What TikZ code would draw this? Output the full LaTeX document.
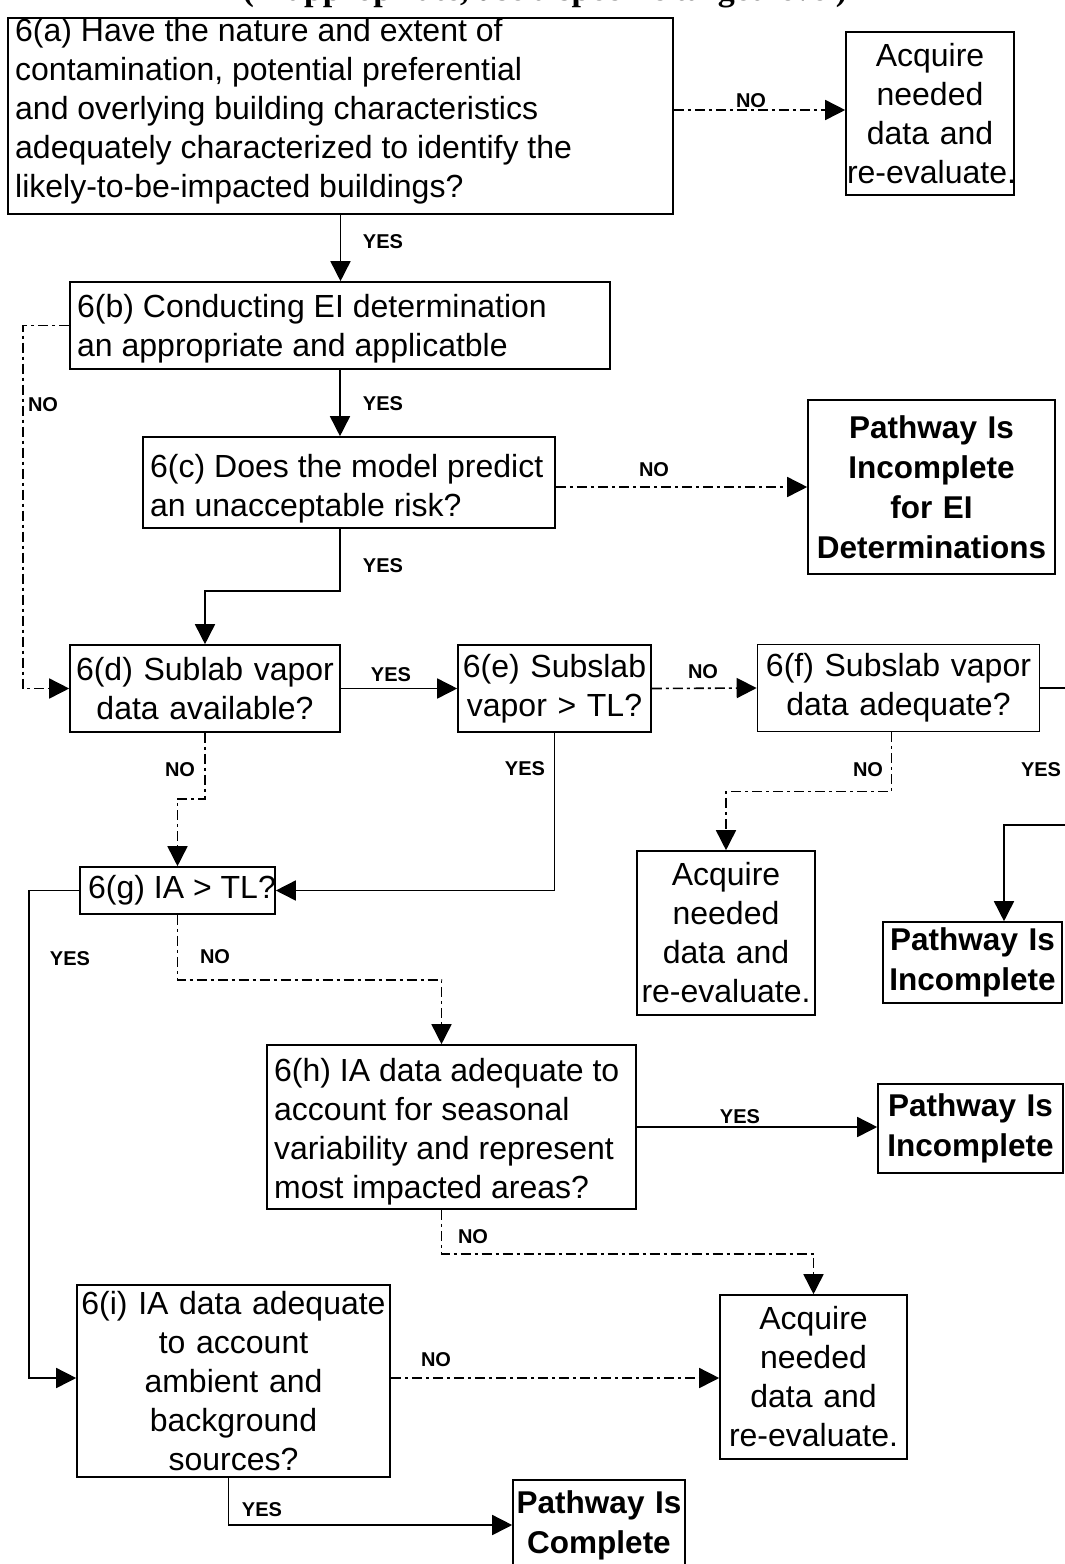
\documentclass[tikz,border=0pt]{standalone}
\usepackage{fontspec}
\setmainfont{Liberation Sans}
\newfontfamily\titlefont{Liberation Serif}
\usetikzlibrary{arrows.meta,calc}
\tikzset{
  box/.style={draw, line width=1.6pt, inner xsep=7pt, inner ysep=0pt, font=\fontsize{32}{39}\selectfont},
  cbox/.style={box, align=center, inner xsep=1pt},
  bbox/.style={box, align=center, inner xsep=1pt, font=\bfseries\fontsize{31.5}{40}\selectfont},
  frame/.style={draw, line width=1.6pt, inner sep=0pt},
  ltext/.style={font=\fontsize{32}{39}\selectfont, align=left, anchor=west, inner sep=0pt},
  conn/.style={line width=1.6pt},
  dd/.style={line width=1.6pt, dash pattern=on 10pt off 4pt on 3pt off 4pt},
  arr/.style={-{Triangle[length=20pt,width=20pt]}},
  lab/.style={font=\bfseries\fontsize{20}{24}\selectfont, inner sep=0pt}
}
\begin{document}
\hyphenpenalty=10000
\exhyphenpenalty=10000
\begin{tikzpicture}[x=1pt,y=-1pt]
\useasboundingbox (0,0) rectangle (1065,1564);
\clip (0,0) rectangle (1065,1564);
\fill[white] (0,0) rectangle (1065,1564);

\node[font=\titlefont\bfseries\fontsize{34}{40}\selectfont, anchor=base, inner sep=0pt] (title) at (545,0) {(If appropriate, use a specific target level)};

% boxes
\node[frame, minimum width=665pt, minimum height=196pt] (a) at (340.5,116) {};
\node[ltext] (atext) at (15,111.5) {6(a) Have the nature and extent of\\contamination, potential preferential\\and overlying building characteristics\\adequately characterized to identify the\\likely-to-be-impacted buildings?};
\node[cbox, text width=166pt, minimum height=163pt] (acq1) at (930,113.5) {Acquire\\needed\\data and\\re-evaluate.};
\node[frame, minimum width=540pt, minimum height=87pt] (b) at (340,325.5) {};
\node[ltext] (btext) at (77,329) {6(b) Conducting EI determination\\an appropriate and applicatble};
\node[frame, minimum width=412pt, minimum height=91pt] (c) at (349,482.5) {};
\node[ltext] (ctext) at (150,489) {6(c) Does the model predict\\an unacceptable risk?};
\node[bbox, text width=245pt, minimum height=174pt] (p1) at (931.5,487) {Pathway Is\\Incomplete\\for EI\hspace*{50pt}\\Determinations};
\node[cbox, text width=268pt, minimum height=87pt] (d) at (205,688.5) {6(d) Sublab vapor\\data available?};
\node[cbox, text width=191pt, minimum height=87pt] (e) at (554.5,688.5) {6(e) Subslab\\vapor > TL?};
\node[cbox, text width=280pt, minimum height=87pt] (f) at (898.5,688) {6(f) Subslab vapor\\data adequate?};
\node[bbox, text width=177pt, minimum height=81pt] (p2) at (972.5,962.5) {Pathway Is\\Incomplete};
\node[cbox, text width=176pt, minimum height=164pt] (acq2) at (726,933) {Acquire\\needed\\data and\\re-evaluate.};
\node[frame, minimum width=195pt, minimum height=47pt] (g) at (177.5,890.5) {};
\node[ltext] (gt) at (88,890.5) {6(g) IA > TL?};
\node[frame, minimum width=369pt, minimum height=164pt] (h) at (451.5,1127) {};
\node[ltext] (htext) at (274,1132) {6(h) IA data adequate to\\account for seasonal\\variability and represent\\most impacted areas?};
\node[bbox, text width=183pt, minimum height=89pt] (p3) at (970.5,1128.5) {Pathway Is\\Incomplete};
\node[cbox, text width=311pt, minimum height=192pt] (i) at (233.5,1381) {6(i) IA data adequate\\to account\hspace*{30pt}\\ambient and\\background\\sources?};
\node[cbox, text width=185pt, minimum height=164pt] (acq3) at (813.5,1377) {Acquire\\needed\\data and\\re-evaluate.};
\node[bbox, text width=170pt, minimum height=90pt] (pc) at (599,1525) {Pathway Is\\Complete};

% connectors
\draw[dd,arr] ([yshift=6pt]a.east) -- ([yshift=6pt]a.east -| acq1.west);
\node[lab] (no1) at (751,101) {NO};

\draw[conn,arr] (a.south) -- (a.south |- b.north);
\node[lab] (yes1) at (383,242) {YES};

\draw[dd,arr] (b.west) -- ++(-46,0) |- (d.west);
\node[lab] (no2) at (43,405) {NO};

\draw[conn,arr] (b.south) -- (b.south |- c.north);
\node[lab] (yes2) at (383,404) {YES};

\draw[dd,arr] (c.east |- p1.west) -- (p1.west);
\node[lab] (no3) at (654,470) {NO};

\draw[conn,arr] (c.south -| b.south) -- ++(0,62) -| (d.north);
\node[lab] (yes3) at (383,566) {YES};

\draw[conn,arr] (d.east) -- (e.west);
\node[lab] (yes4) at (391,675) {YES};

\draw[dd,arr] (e.east) -- (f.west);
\node[lab] (no4) at (703,672) {NO};

\coordinate (fout) at ([xshift=40pt]f.east);
\draw[conn] (f.east) -- (fout);
\node[lab] (yes5) at (1041,770) {YES};

\coordinate (rin) at (1075,825);
\draw[conn,arr] (rin) -| ([xshift=31.5pt]p2.north);

\draw[dd,arr] ([xshift=-7pt]f.south) -- ++(0,59) -| (acq2.north);
\node[lab] (no5) at (868,770) {NO};

\draw[dd,arr] (d.south) -- ++(0,66) -| (g.north);
\node[lab] (no6) at (180,770) {NO};

\draw[conn,arr] (e.south) |- (g.east);
\node[lab] (yes6) at (525,769) {YES};

\draw[conn,arr] (g.west) -- ++(-50,0) |- ([yshift=3pt]i.west);
\node[lab] (yes7) at (70,959) {YES};

\draw[dd,arr] (g.south) -- ++(0,65) -| ([xshift=-10pt]h.north);
\node[lab] (no7) at (215,957) {NO};

\draw[conn,arr] (h.east) -- (h.east -| p3.west);
\node[lab] (yes8) at (740,1117) {YES};

\draw[dd,arr] ([xshift=-10pt]h.south) -- ++(0,44) -| (acq3.north);
\node[lab] (no8) at (473,1237) {NO};

\draw[dd,arr] ([yshift=3pt]i.east) -- ([yshift=3pt]i.east -| acq3.west);
\node[lab] (no9) at (436,1360) {NO};

\draw[conn,arr] ([xshift=-5pt]i.south) |- (pc.west);
\node[lab] (yes9) at (262,1510) {YES};
\end{tikzpicture}
\end{document}
